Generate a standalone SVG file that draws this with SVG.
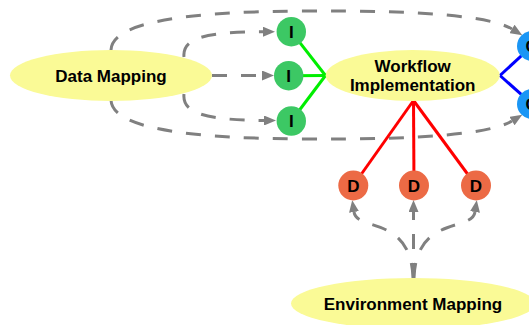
<svg xmlns="http://www.w3.org/2000/svg" width="529" height="325" viewBox="0 0 529 325">
<style>
.bg{fill:#ffffff}
.ell{fill:#fafa96;stroke:none}
.lbl{font-family:"Liberation Sans",Arial,sans-serif;font-weight:bold;font-size:17px;fill:#000000;text-anchor:middle}
.dash{fill:none;stroke:#808080;stroke-width:3;stroke-dasharray:15,14}
.g{stroke:#00ee00;stroke-width:3;fill:none}
.r{stroke:#ff0000;stroke-width:3;fill:none}
.b{stroke:#0000ff;stroke-width:3;fill:none}
.ci{fill:#3cc864}
.cd{fill:#ec6a45}
.co{fill:#1a96f5}
</style>
<defs>
<marker id="arr" markerUnits="userSpaceOnUse" markerWidth="12" markerHeight="10" viewBox="0 0 12 10" refX="0" refY="5" orient="auto">
<path d="M0,0 L12,5 L0,10 z" fill="#808080"/>
</marker>
</defs>
<rect class="bg" x="0" y="0" width="529" height="325"/>
<g id="connectors">
<path class="dash" d="M212,75.5 L262,75.5" marker-end="url(#arr)"/>
<path class="dash" d="M184,57 C182,38 205,32 263,31.7" marker-end="url(#arr)"/>
<path class="dash" d="M184,94 C182,113 205,120 264,120.5" marker-end="url(#arr)"/>
<path class="dash" d="M111,50 C112,25 170,12 300,11 S492,17 512,29" marker-end="url(#arr)"/>
<path class="dash" d="M111,100 C112,125 170,138 300,139 S492,133 512,121" marker-end="url(#arr)"/>
<path class="dash" d="M413,278 C411,215 357,232 354,212" marker-end="url(#arr)"/>
<path class="dash" d="M413.5,278 L413.5,212" marker-end="url(#arr)"/>
<path class="dash" d="M414,278 C416,215 472,232 475,212" marker-end="url(#arr)"/>
<line class="g" x1="325.5" y1="75.5" x2="291.3" y2="31.7"/>
<line class="g" x1="325.5" y1="75.5" x2="288.7" y2="75.7"/>
<line class="g" x1="325.5" y1="75.5" x2="291.3" y2="121"/>
<line class="r" x1="413.5" y1="100.5" x2="353.3" y2="185.5"/>
<line class="r" x1="413.5" y1="100.5" x2="414" y2="185.5"/>
<line class="r" x1="413.5" y1="100.5" x2="476" y2="185.5"/>
<line class="b" x1="500" y1="75.5" x2="532" y2="46"/>
<line class="b" x1="500" y1="75.5" x2="532" y2="104"/>
</g>
<g id="data-mapping">
<ellipse class="ell" cx="111" cy="75.5" rx="101" ry="25.5"/>
<text class="lbl" x="111" y="81.8">Data Mapping</text>
</g>
<g id="workflow-implementation">
<ellipse class="ell" cx="412.7" cy="75.5" rx="87" ry="25.5"/>
<text class="lbl" x="412.7" y="71.7">Workflow</text>
<text class="lbl" x="412.7" y="91">Implementation</text>
</g>
<g id="environment-mapping">
<ellipse class="ell" cx="413" cy="303.5" rx="122" ry="25.5"/>
<text class="lbl" x="413" y="310">Environment Mapping</text>
</g>
<g id="input-1"><circle class="ci" cx="291.3" cy="31.7" r="14.7"/><text class="lbl" x="291.3" y="37.7">I</text></g>
<g id="input-2"><circle class="ci" cx="288.7" cy="75.7" r="14.7"/><text class="lbl" x="288.7" y="81.7">I</text></g>
<g id="input-3"><circle class="ci" cx="291.3" cy="121" r="14.7"/><text class="lbl" x="291.3" y="127">I</text></g>
<g id="dep-1"><circle class="cd" cx="353.3" cy="185.5" r="15"/><text class="lbl" x="353.3" y="191.5">D</text></g>
<g id="dep-2"><circle class="cd" cx="414" cy="185.5" r="15"/><text class="lbl" x="414" y="191.5">D</text></g>
<g id="dep-3"><circle class="cd" cx="476" cy="185.5" r="15"/><text class="lbl" x="476" y="191.5">D</text></g>
<g id="out-1"><circle class="co" cx="532" cy="46" r="15"/><text class="lbl" x="532" y="52">O</text></g>
<g id="out-2"><circle class="co" cx="532" cy="104" r="15"/><text class="lbl" x="532" y="110">O</text></g>
</svg>
